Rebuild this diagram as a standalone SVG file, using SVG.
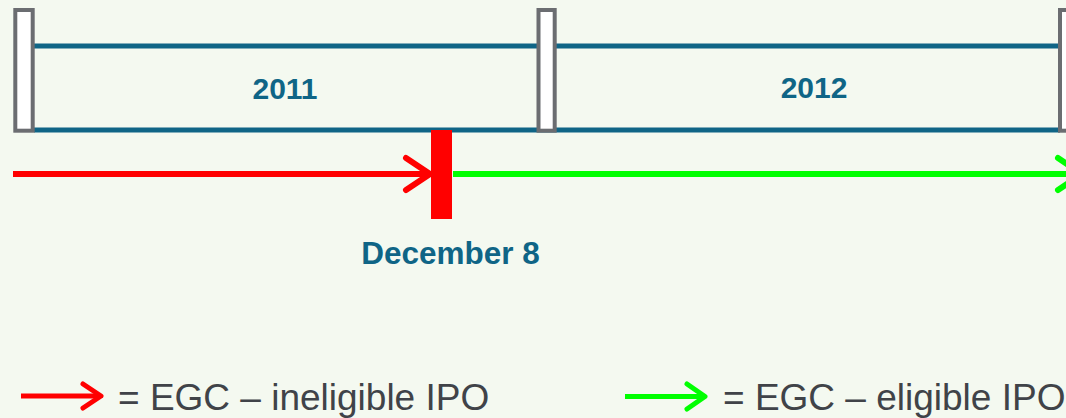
<svg xmlns="http://www.w3.org/2000/svg" width="1066" height="418" viewBox="0 0 1066 418">
<style>
.bar{fill:#ffffff;stroke:#6b6d71;stroke-width:4}
.rule{stroke:#0f6586;stroke-width:5}
.lbl{font-family:"Liberation Sans",Arial,sans-serif;font-weight:bold;fill:#0f6586;font-size:30px;text-anchor:middle}
.leg{font-family:"Liberation Sans",Arial,sans-serif;fill:#404348;font-size:37px}
.red{stroke:#ff0000;fill:none;stroke-linecap:round;stroke-linejoin:round}
.grn{stroke:#00ff00;fill:none;stroke-linecap:round;stroke-linejoin:round}
</style>
<rect width="1066" height="418" fill="#f4f9f0"/>
<g id="timeline">
<line class="rule" x1="34" y1="46" x2="1060" y2="46"/>
<line class="rule" x1="34" y1="130" x2="1060" y2="130"/>
</g>
<g id="bar-start"><rect class="bar" x="15.3" y="10" width="17.4" height="120.7"/></g>
<g id="bar-mid"><rect class="bar" x="538.5" y="10" width="16.2" height="120.7"/></g>
<g id="bar-end"><rect class="bar" x="1060" y="10" width="18" height="120.7"/></g>
<g id="year-2011"><text class="lbl" x="285" y="98.5">2011</text></g>
<g id="year-2012"><text class="lbl" x="814" y="98">2012</text></g>
<g id="connectors">
<line class="red" x1="13" y1="174" x2="430" y2="174" stroke-width="6" style="stroke-linecap:butt"/>
<polyline class="red" points="406,158 430,174 406,190" stroke-width="6"/>
<line class="grn" x1="453" y1="174" x2="1070" y2="174" stroke-width="6" style="stroke-linecap:butt"/>
<polyline class="grn" points="1058,158 1082,174 1058,190" stroke-width="6"/>
</g>
<g id="december-8">
<rect x="431" y="130" width="21" height="89" fill="#ff0000"/>
<text class="lbl" x="450.5" y="263.5" style="font-size:31.5px">December 8</text>
</g>
<g id="legend-ineligible">
<line class="red" x1="21" y1="396" x2="100" y2="396" stroke-width="5" style="stroke-linecap:butt"/>
<polyline class="red" points="83,384 101,396 83,408" stroke-width="5"/>
<text class="leg" x="118" y="410">= EGC – ineligible IPO</text>
</g>
<g id="legend-eligible">
<line class="grn" x1="625" y1="396.5" x2="705" y2="396.5" stroke-width="5" style="stroke-linecap:butt"/>
<polyline class="grn" points="687,384 705,396.5 687,409" stroke-width="5"/>
<text class="leg" x="723" y="410">= EGC – eligible IPO</text>
</g>
</svg>
